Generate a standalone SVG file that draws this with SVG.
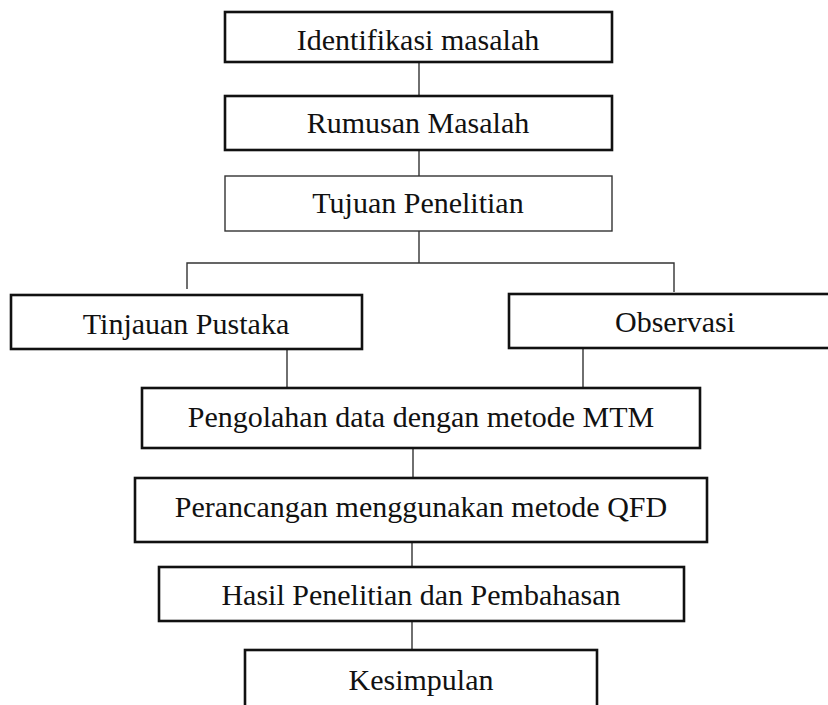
<svg xmlns="http://www.w3.org/2000/svg" width="828" height="705" viewBox="0 0 828 705">
<style>
.box{fill:#fff;stroke:#111;stroke-width:2.6}
.thin{fill:#fff;stroke:#333;stroke-width:1.4}
.lbl{font-family:"Liberation Serif","Times New Roman",serif;font-size:30px;fill:#111;text-anchor:middle}
.con{fill:none;stroke:#333;stroke-width:1.4}
</style>
<rect width="828" height="705" fill="#fff"/>
<g id="connectors">
<line class="con" x1="419" y1="62" x2="419" y2="95"/>
<line class="con" x1="419" y1="150" x2="419" y2="176"/>
<polyline class="con" points="419,231 419,263"/>
<polyline class="con" points="187,289 187,263 674,263 674,292"/>
<line class="con" x1="287" y1="349" x2="287" y2="388"/>
<line class="con" x1="583" y1="348" x2="583" y2="388"/>
<line class="con" x1="413" y1="448" x2="413" y2="478"/>
<line class="con" x1="412" y1="542" x2="412" y2="567"/>
<line class="con" x1="412" y1="621" x2="412" y2="650"/>
</g>
<g id="n1"><rect class="box" x="225" y="12" width="387" height="50"/><text class="lbl" x="418" y="50">Identifikasi masalah</text></g>
<g id="n2"><rect class="box" x="225" y="96" width="387" height="54"/><text class="lbl" x="418" y="133">Rumusan Masalah</text></g>
<g id="n3"><rect class="thin" x="225" y="176" width="387" height="55"/><text class="lbl" x="418" y="213">Tujuan Penelitian</text></g>
<g id="n4"><rect class="box" x="11" y="295" width="351" height="54"/><text class="lbl" x="186" y="334">Tinjauan Pustaka</text></g>
<g id="n5"><rect class="box" x="509" y="294" width="332" height="54"/><text class="lbl" x="675" y="332">Observasi</text></g>
<g id="n6"><rect class="box" x="142" y="388" width="558" height="60"/><text class="lbl" x="421" y="427">Pengolahan data dengan metode MTM</text></g>
<g id="n7"><rect class="box" x="135" y="478" width="572" height="64"/><text class="lbl" x="421" y="517">Perancangan menggunakan metode QFD</text></g>
<g id="n8"><rect class="box" x="159" y="567" width="525" height="54"/><text class="lbl" x="421" y="605">Hasil Penelitian dan Pembahasan</text></g>
<g id="n9"><rect class="box" x="245" y="650" width="352" height="64"/><text class="lbl" x="421" y="690">Kesimpulan</text></g>
</svg>
